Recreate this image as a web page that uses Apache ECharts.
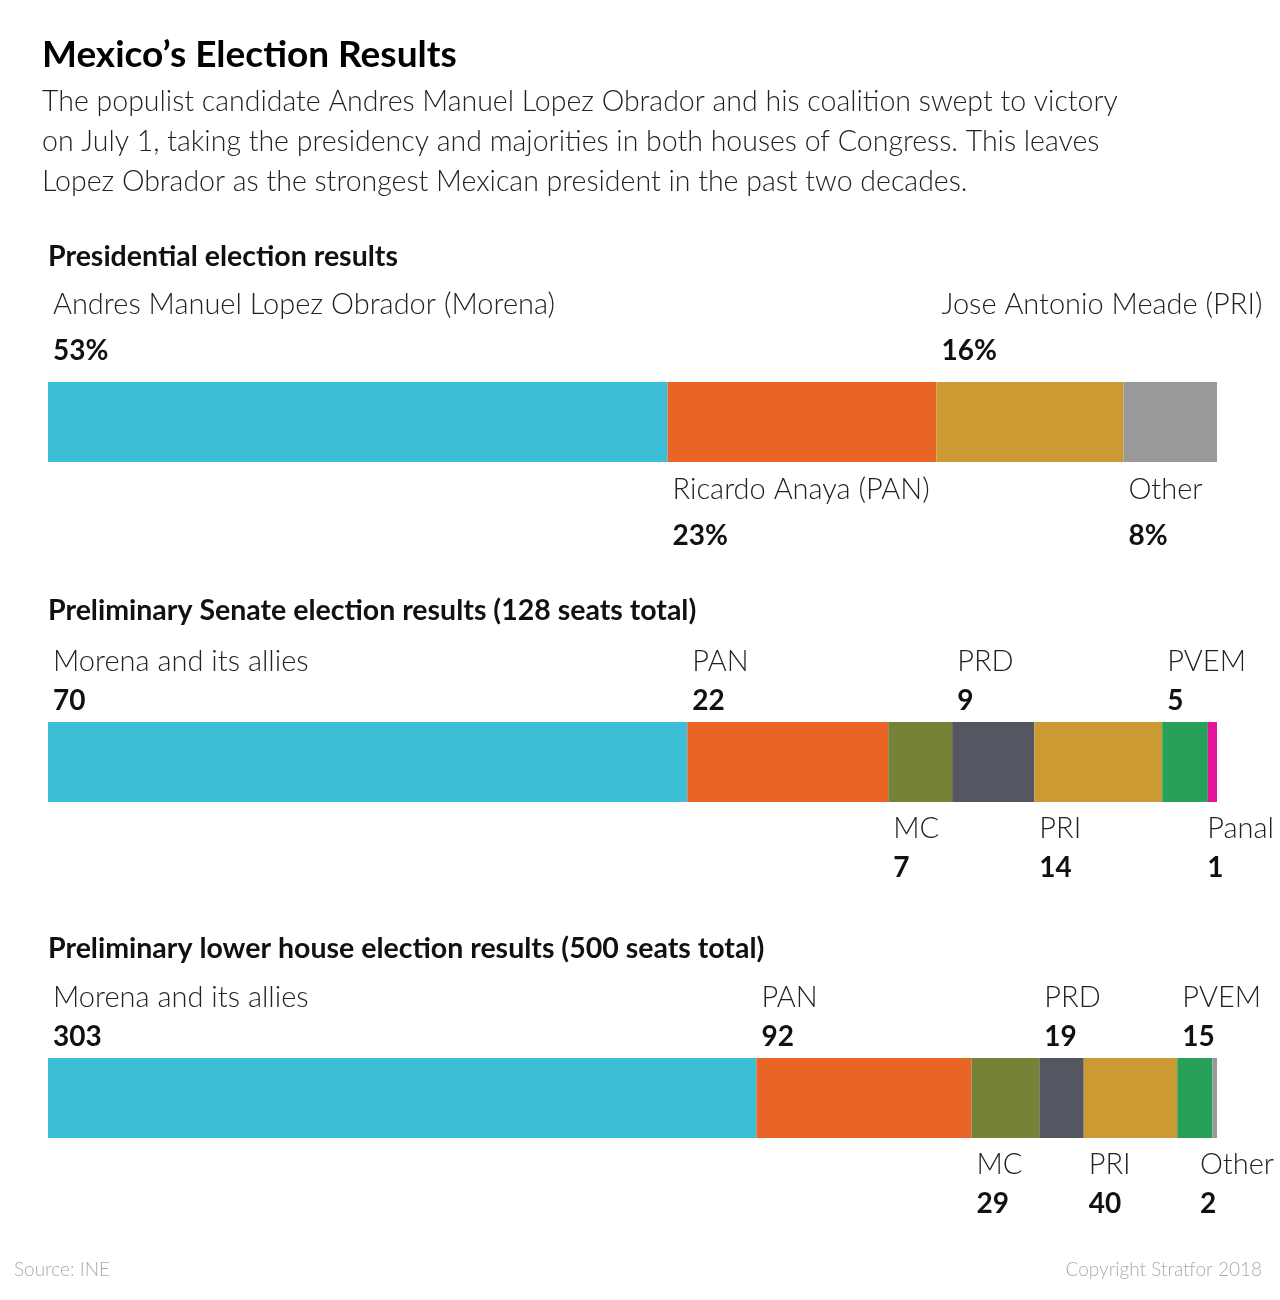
<!DOCTYPE html>
<html>
<head>
<meta charset="utf-8">
<script src="https://cdn.jsdelivr.net/npm/echarts@6/dist/echarts.min.js"></script>
<style>
  html, body { margin: 0; padding: 0; background: #fff; }
  #main { width: 1280px; height: 1300px; }
</style>
</head>
<body>
<div id="main"></div>
<script>
// presidential vote share (%)
const presNames = ['Andres Manuel Lopez Obrador (Morena)', 'Ricardo Anaya (PAN)', 'Jose Antonio Meade (PRI)', 'Other'];
const presValues = [53, 23, 16, 8];
// senate seats (128)
const senateNames = ['Morena and its allies', 'PAN', 'MC', 'PRD', 'PRI', 'PVEM', 'Panal'];
const senateSeats = [70, 22, 7, 9, 14, 5, 1];
// lower house seats (500)
const houseNames = ['Morena and its allies', 'PAN', 'MC', 'PRD', 'PRI', 'PVEM', 'Other'];
const houseSeats = [303, 92, 29, 19, 40, 15, 2];

const presColors = ['#3cbfd6', '#e86526', '#cc9a33', '#999999'];
const senateColors = ['#3cbfd6', '#e86526', '#768238', '#545661', '#cc9a33', '#27a05a', '#e6149c'];
const houseColors = ['#3cbfd6', '#e86526', '#768238', '#545661', '#cc9a33', '#27a05a', '#999999'];
const presSides = ['top', 'bottom', 'top', 'bottom'];
const legSides = ['top', 'top', 'bottom', 'top', 'bottom', 'top', 'bottom'];

const FONT = 'Lato';
const chart = echarts.init(document.getElementById('main'));

const gridTops = [382, 722, 1058];
const totals = [
  presValues.reduce((a, b) => a + b, 0),
  senateSeats.reduce((a, b) => a + b, 0),
  houseSeats.reduce((a, b) => a + b, 0)
];

// lh = line height of the two-line label, up/down = y offset of label block from bar top
function buildSeries(g, names, values, colors, sides, suffix, lh, up, down) {
  return names.map((n, i) => ({
    type: 'bar',
    name: n,
    xAxisIndex: g,
    yAxisIndex: g,
    stack: 'stack' + g,
    barWidth: 80,
    data: [values[i]],
    itemStyle: { color: colors[i] },
    label: {
      show: true,
      position: sides[i] === 'top' ? [5, up] : [5, down],
      align: 'left',
      verticalAlign: 'top',
      formatter: '{n|' + n + '}\n{v|' + values[i] + suffix + '}',
      rich: {
        n: { fontFamily: FONT, fontWeight: 300, fontSize: 29, lineHeight: lh, color: '#222' },
        v: { fontFamily: FONT, fontWeight: 'bold', fontSize: 28, lineHeight: lh, color: '#111' }
      }
    },
    labelLayout: function (p) {
      const r = p.labelRect;
      if (r.x + r.width > 1274) return { x: 1274 - r.width };
      return {};
    },
    silent: true
  }));
}

const head = { fontFamily: FONT, fontWeight: 'bold', fontSize: 28.5, color: '#111' };
const foot = { fontFamily: FONT, fontWeight: 300, fontSize: 19, color: '#aaa' };

const option = {
  animation: false,
  title: [
    { text: 'Mexico’s Election Results', left: 42, top: 37, padding: 0,
      textStyle: { fontFamily: FONT, fontWeight: 'bold', fontSize: 37, color: '#000' } },
    { text: 'The populist candidate Andres Manuel Lopez Obrador and his coalition swept to victory\non July 1, taking the presidency and majorities in both houses of Congress. This leaves\nLopez Obrador as the strongest Mexican president in the past two decades.',
      left: 42, top: 82, padding: 0,
      textStyle: { fontFamily: FONT, fontWeight: 300, fontSize: 28.5, lineHeight: 40, color: '#222' } },
    { text: 'Presidential election results', left: 48, top: 242, padding: 0, textStyle: head },
    { text: 'Preliminary Senate election results (128 seats total)', left: 48, top: 596, padding: 0, textStyle: head },
    { text: 'Preliminary lower house election results (500 seats total)', left: 48, top: 934, padding: 0, textStyle: head },
    { text: 'Source: INE', left: 14, top: 1260, padding: 0, textStyle: foot },
    { text: 'Copyright Stratfor 2018', right: 18, top: 1260, padding: 0, textStyle: foot }
  ],
  grid: gridTops.map(t => ({ left: 48, right: 63, top: t, height: 80 })),
  xAxis: totals.map((m, g) => ({ type: 'value', gridIndex: g, min: 0, max: m, show: false })),
  yAxis: totals.map((m, g) => ({ type: 'category', gridIndex: g, data: ['all'], show: false })),
  series: [].concat(
    buildSeries(0, presNames, presValues, presColors, presSides, '%', 46, -100, 85),
    buildSeries(1, senateNames, senateSeats, senateColors, legSides, '', 39, -80, 87),
    buildSeries(2, houseNames, houseSeats, houseColors, legSides, '', 39, -80, 87)
  )
};
chart.setOption(option);
</script>
</body>
</html>
